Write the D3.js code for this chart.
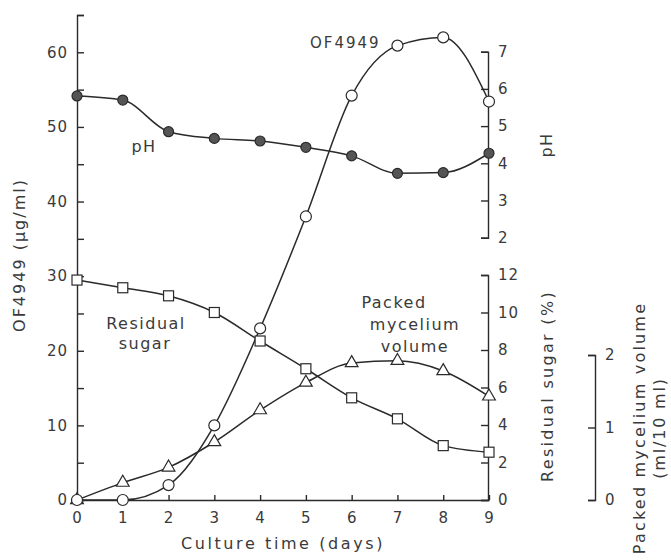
<!DOCTYPE html>
<html>
<head>
<meta charset="utf-8">
<script src="https://cdn.jsdelivr.net/npm/d3@7"></script>
<style>
  html, body { margin: 0; padding: 0; background: #fff; }
  svg { display: block; }
  text { font-family: "DejaVu Sans", sans-serif; fill: #3a3a3a; }
  .tick text { font-size: 15px; letter-spacing: 1px; }
  .axis path, .axis line { stroke: #2a2a2a; stroke-width: 1.4; }
</style>
</head>
<body>
<script>
// ---------- data ----------
const days = [0, 1, 2, 3, 4, 5, 6, 7, 8, 9];
const of4949 = [0, 0, 2, 10, 23, 38, 54.2, 60.9, 62, 53.4];          // µg/ml
const pH = [5.81, 5.70, 4.85, 4.67, 4.60, 4.43, 4.20, 3.73, 3.75, 4.27];
const residualSugar = [11.73, 11.32, 10.89, 10.0, 8.48, 7.0, 5.45, 4.33, 2.9, 2.55]; // %
const packedMycelium = [0, 0.24, 0.45, 0.80, 1.24, 1.62, 1.89, 1.92, 1.78, 1.43];   // ml/10 ml

const xTicks = [0, 1, 2, 3, 4, 5, 6, 7, 8, 9];
const ofTicks = [0, 5, 10, 15, 20, 25, 30, 35, 40, 45, 50, 55, 60, 65];
const ofLabels = [0, 10, 20, 30, 40, 50, 60];
const pHTicks = [2, 3, 4, 5, 6, 7];
const sugarTicks = [0, 2, 4, 6, 8, 10, 12];
const pmvTicks = [0, 1, 2];

// ---------- layout ----------
const W = 671, H = 560;
const svg = d3.select("body").append("svg").attr("width", W).attr("height", H);

const x = d3.scaleLinear().domain([0, 9]).range([77, 489]);
const yOF = d3.scaleLinear().domain([0, 65]).range([500, 15]);
const yPH = d3.scaleLinear().domain([2, 7]).range([237.7, 51.7]);
const ySugar = d3.scaleLinear().domain([0, 12]).range([500, 275]);
const yPMV = d3.scaleLinear().domain([0, 2]).range([500, 355]);

// ---------- axes ----------
svg.append("g").attr("class", "axis").attr("transform", "translate(0,500)")
  .call(d3.axisBottom(x).tickValues(xTicks).tickFormat(d3.format("d"))
    .tickSizeInner(-5).tickSizeOuter(0).tickPadding(12));

svg.append("g").attr("class", "axis").attr("transform", "translate(77,0)")
  .call(d3.axisLeft(yOF).tickValues(ofTicks)
    .tickFormat(d => ofLabels.includes(d) ? d : "")
    .tickSizeInner(-7).tickSizeOuter(-7).tickPadding(9));

svg.append("g").attr("class", "axis").attr("transform", "translate(488,0)")
  .call(d3.axisRight(yPH).tickValues(pHTicks).tickFormat(d3.format("d"))
    .tickSizeInner(-7).tickSizeOuter(-7).tickPadding(10));

svg.append("g").attr("class", "axis").attr("transform", "translate(488,0)")
  .call(d3.axisRight(ySugar).tickValues(sugarTicks).tickFormat(d3.format("d"))
    .tickSizeInner(-7).tickSizeOuter(-7).tickPadding(10));

svg.append("g").attr("class", "axis").attr("transform", "translate(595,0)")
  .call(d3.axisRight(yPMV).tickValues(pmvTicks).tickFormat(d3.format("d"))
    .tickSizeInner(-7).tickSizeOuter(-7).tickPadding(10));

svg.selectAll(".domain").attr("fill", "none");

// ---------- lines ----------
function drawLine(values, y) {
  const line = d3.line().x((d, i) => x(days[i])).y(d => y(d)).curve(d3.curveMonotoneX);
  svg.append("path").datum(values).attr("d", line)
    .attr("fill", "none").attr("stroke", "#2a2a2a").attr("stroke-width", 1.5);
}
drawLine(of4949, yOF);
drawLine(pH, yPH);
drawLine(residualSugar, ySugar);
drawLine(packedMycelium, yPMV);

// ---------- markers ----------
svg.append("g").selectAll("circle").data(pH).join("circle")
  .attr("cx", (d, i) => x(days[i])).attr("cy", d => yPH(d)).attr("r", 5)
  .attr("fill", "#555").attr("stroke", "#2a2a2a").attr("stroke-width", 1.2);

svg.append("g").selectAll("rect").data(residualSugar).join("rect")
  .attr("x", (d, i) => x(days[i]) - 5).attr("y", d => ySugar(d) - 5)
  .attr("width", 10).attr("height", 10)
  .attr("fill", "#fff").attr("stroke", "#2a2a2a").attr("stroke-width", 1.2);

const tri = d3.symbol().type(d3.symbolTriangle).size(70);
svg.append("g").selectAll("path").data(packedMycelium).join("path")
  .attr("d", tri)
  .attr("transform", (d, i) => `translate(${x(days[i])},${yPMV(d)})`)
  .attr("fill", "#fff").attr("stroke", "#2a2a2a").attr("stroke-width", 1.2);

svg.append("g").selectAll("circle").data(of4949).join("circle")
  .attr("cx", (d, i) => x(days[i])).attr("cy", d => yOF(d)).attr("r", 5.5)
  .attr("fill", "#fff").attr("stroke", "#2a2a2a").attr("stroke-width", 1.2);

// ---------- titles ----------
function label(txt, px, py, opts = {}) {
  const t = svg.append("text").text(txt)
    .attr("font-size", opts.size || 16)
    .attr("letter-spacing", opts.ls != null ? opts.ls : 1.5)
    .attr("text-anchor", opts.anchor || "middle");
  if (opts.rotate) t.attr("transform", `translate(${px},${py}) rotate(-90)`);
  else t.attr("x", px).attr("y", py);
  return t;
}
label("Culture time (days)", 283, 549, { ls: 2.6 });
label("OF4949 (\u03bcg/ml)", 25, 255, { rotate: true, ls: 2 });
label("pH", 552, 145, { rotate: true });
label("Residual sugar (%)", 553, 386, { rotate: true, ls: 2.3 });
label("Packed mycelium volume", 645, 428, { rotate: true, ls: 2.2 });
label("(ml/10 ml)", 665, 428, { rotate: true, ls: 1.8 });

// series labels
label("OF4949", 310, 48, { anchor: "start", size: 15, ls: 2 });
label("pH", 144, 152);
label("Residual", 146, 329);
label("sugar", 145, 349);
label("Packed", 394, 308);
label("mycelium", 415, 330);
label("volume", 415, 352);
</script>
</body>
</html>
